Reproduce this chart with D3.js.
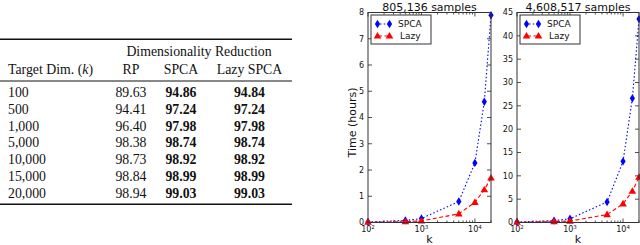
<!DOCTYPE html>
<html><head><meta charset="utf-8">
<script src="https://cdn.jsdelivr.net/npm/d3@7"></script>
<style>body{margin:0;background:#fff}svg{display:block}</style>
</head><body>
<svg id="c" width="640" height="245"></svg>
<script>
// ---- table data ----
const kLabels = ["100","500","1,000","5,000","10,000","15,000","20,000"];
const rpAcc   = ["89.63","94.41","96.40","98.38","98.73","98.84","98.94"];
const spcaAcc = ["94.86","97.24","97.98","98.74","98.92","98.99","99.03"];
const lazyAcc = ["94.84","97.24","97.98","98.74","98.92","98.99","99.03"];
const colHeaders = ["RP","SPCA","Lazy SPCA"];
// ---- chart data ----
const kValues = [100,500,1000,5000,10000,15000,20000];
const titles = ["805,136 samples","4,608,517 samples"];
const spcaTimeA = [0.02,0.08,0.15,0.80,2.27,4.60,7.90];
const lazyTimeA = [0.01,0.03,0.06,0.33,0.77,1.25,1.70];
const spcaTimeB = [0.10,0.40,0.80,4.40,13.1,26.6,43.6];
const lazyTimeB = [0.05,0.20,0.30,1.70,4.00,6.70,9.70];
const yTicksA = [0,1,2,3,4,5,6,7,8];
const yTicksB = [0,5,10,15,20,25,30,35,40,45];
const xTicks = [100,1000,10000];
const seriesNames = ["SPCA","Lazy"];

const svg = d3.select("#c");

// ================= TABLE =================
const serif = "'Liberation Serif','Times New Roman',serif";
const T = svg.append("g").attr("font-family", serif).attr("font-size", 13.8).attr("fill","#111");
T.append("line").attr("x1",0).attr("x2",292).attr("y1",39.3).attr("y2",39.3).attr("stroke","#111").attr("stroke-width",1.6);
T.append("line").attr("x1",0).attr("x2",292).attr("y1",81).attr("y2",81).attr("stroke","#111").attr("stroke-width",1);
T.append("line").attr("x1",0).attr("x2",292).attr("y1",204.3).attr("y2",204.3).attr("stroke","#111").attr("stroke-width",1.6);

T.append("text").attr("x",199).attr("y",56).attr("text-anchor","middle").text("Dimensionality Reduction");
const th = T.append("text").attr("x",8).attr("y",73.5);
th.append("tspan").text("Target Dim. (");
th.append("tspan").attr("font-style","italic").text("k");
th.append("tspan").text(")");
const colX = [131,181,249.5];
colHeaders.forEach((h,i)=>T.append("text").attr("x",colX[i]).attr("y",73.5).attr("text-anchor","middle").text(h));

const rowY = d3.scaleLinear().domain([0,6]).range([97,197.6]);
kLabels.forEach((lab,i)=>{
  const y = rowY(i);
  T.append("text").attr("x",8).attr("y",y).text(lab);
  T.append("text").attr("x",colX[0]).attr("y",y).attr("text-anchor","middle").text(rpAcc[i]);
  T.append("text").attr("x",colX[1]).attr("y",y).attr("text-anchor","middle").attr("font-weight","bold").text(spcaAcc[i]);
  T.append("text").attr("x",colX[2]).attr("y",y).attr("text-anchor","middle").attr("font-weight","bold").text(lazyAcc[i]);
});

// ================= CHARTS =================
const sans = "'DejaVu Sans',sans-serif";
const diamond = "M0,-4.2L2.6,0L0,4.2L-2.6,0Z";
const triangle = "M0,-4L3.8,2.6L-3.8,2.6Z";

function panel(x0, x1, yMax, yTicks, spca, lazy, title, showYLabel){
  const top = 12.5, bot = 222.5;
  const x = d3.scaleLog().domain([100,20000]).range([x0,x1]);
  const y = d3.scaleLinear().domain([0,yMax]).range([bot,top]);
  const g = svg.append("g").attr("font-family",sans);

  // minor ticks
  const minors = [];
  for (let d=100; d<=10000; d*=10) for (let m=2;m<=9;m++){ const v=d*m; if(v<=20000) minors.push(v);}
  const tickCol = "#222";
  minors.forEach(v=>{
    g.append("line").attr("x1",x(v)).attr("x2",x(v)).attr("y1",bot).attr("y2",bot-2).attr("stroke",tickCol).attr("stroke-width",0.8);
    g.append("line").attr("x1",x(v)).attr("x2",x(v)).attr("y1",top).attr("y2",top+2).attr("stroke",tickCol).attr("stroke-width",0.8);
  });
  xTicks.forEach(v=>{
    g.append("line").attr("x1",x(v)).attr("x2",x(v)).attr("y1",bot).attr("y2",bot-4).attr("stroke",tickCol).attr("stroke-width",0.8);
    g.append("line").attr("x1",x(v)).attr("x2",x(v)).attr("y1",top).attr("y2",top+4).attr("stroke",tickCol).attr("stroke-width",0.8);
    const t = g.append("text").attr("x",x(v)).attr("y",232).attr("text-anchor","middle").attr("font-size",8).attr("fill","#111");
    t.append("tspan").text("10");
    t.append("tspan").attr("font-size",5.5).attr("dy",-3.5).text(Math.round(Math.log10(v)));
  });
  yTicks.forEach(v=>{
    g.append("line").attr("x1",x0).attr("x2",x0+4).attr("y1",y(v)).attr("y2",y(v)).attr("stroke",tickCol).attr("stroke-width",0.8);
    g.append("line").attr("x1",x1).attr("x2",x1-4).attr("y1",y(v)).attr("y2",y(v)).attr("stroke",tickCol).attr("stroke-width",0.8);
    g.append("text").attr("x",x0-4).attr("y",y(v)+2.8).attr("text-anchor","end").attr("font-size",8).attr("fill","#111").text(v);
  });

  // lines
  const line = d3.line().x((d,i)=>x(kValues[i])).y(d=>y(d));
  g.append("path").attr("d",line(spca)).attr("fill","none").attr("stroke","#0000ff").attr("stroke-width",1.1).attr("stroke-dasharray","1.5,2.2");
  g.append("path").attr("d",line(lazy)).attr("fill","none").attr("stroke","#ff0000").attr("stroke-width",1.1).attr("stroke-dasharray","4,2.5");
  spca.forEach((d,i)=>g.append("path").attr("d",diamond).attr("transform",`translate(${x(kValues[i])},${y(d)})`).attr("fill","#0000ff"));
  lazy.forEach((d,i)=>g.append("path").attr("d",triangle).attr("transform",`translate(${x(kValues[i])},${y(d)})`).attr("fill","#ff0000"));

  // frame
  g.append("rect").attr("x",x0).attr("y",top).attr("width",x1-x0).attr("height",bot-top).attr("fill","none").attr("stroke","#333").attr("stroke-width",1);

  // legend
  const lx = x0+3, ly = 15;
  g.append("rect").attr("x",lx).attr("y",ly).attr("width",60).attr("height",29).attr("fill","#fff").attr("stroke","#333").attr("stroke-width",1);
  const e1 = ly+9, e2 = ly+21;
  g.append("line").attr("x1",lx+7).attr("x2",lx+19).attr("y1",e1).attr("y2",e1).attr("stroke","#0000ff").attr("stroke-width",1.1).attr("stroke-dasharray","1.5,2.2").attr("stroke-dashoffset",-2);
  [lx+6.5,lx+18.5].forEach(px=>g.append("path").attr("d",diamond).attr("transform",`translate(${px},${e1})`).attr("fill","#0000ff"));
  g.append("line").attr("x1",lx+7).attr("x2",lx+19).attr("y1",e2).attr("y2",e2).attr("stroke","#ff0000").attr("stroke-width",1.1).attr("stroke-dasharray","4,2.5");
  [lx+6.5,lx+18.5].forEach(px=>g.append("path").attr("d",triangle).attr("transform",`translate(${px},${e2})`).attr("fill","#ff0000"));
  g.append("text").attr("x",lx+27).attr("y",e1+3.3).attr("font-size",9).attr("fill","#111").text(seriesNames[0]);
  g.append("text").attr("x",lx+29).attr("y",e2+3.3).attr("font-size",9).attr("fill","#111").text(seriesNames[1]);

  // titles and labels
  g.append("text").attr("x",(x0+x1)/2).attr("y",10.5).attr("text-anchor","middle").attr("font-size",11).attr("fill","#111").text(title);
  g.append("text").attr("x",(x0+x1)/2).attr("y",243).attr("text-anchor","middle").attr("font-size",11).attr("fill","#111").text("k");
  if (showYLabel){
    g.append("text").attr("transform",`translate(355.5,${(top+bot)/2+5}) rotate(-90)`).attr("text-anchor","middle").attr("font-size",11).attr("fill","#111").text("Time (hours)");
  }
}
panel(368, 491, 8, yTicksA, spcaTimeA, lazyTimeA, titles[0], true);
panel(517, 639, 45, yTicksB, spcaTimeB, lazyTimeB, titles[1], false);
</script>
</body></html>
